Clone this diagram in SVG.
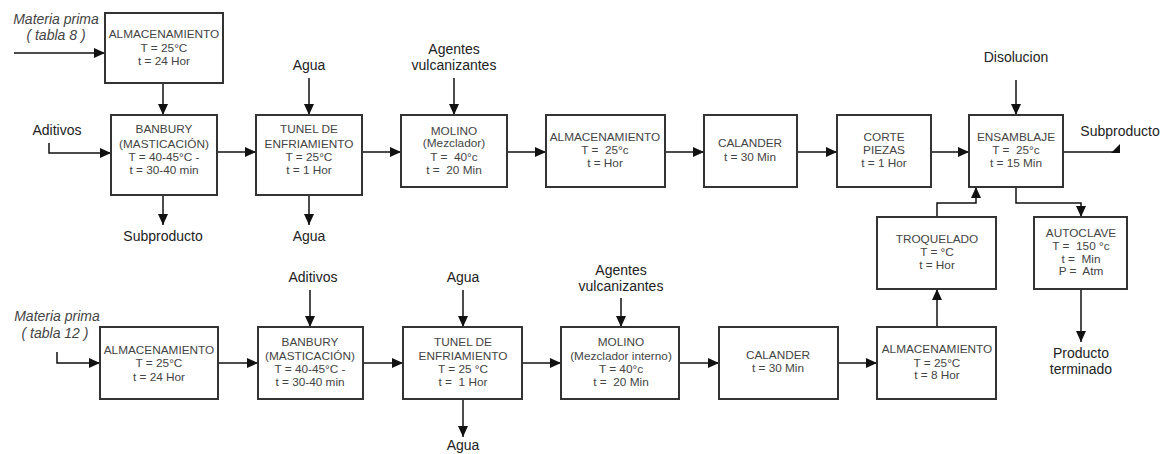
<svg xmlns="http://www.w3.org/2000/svg" width="1170" height="454" viewBox="0 0 1170 454">
<style>
.box{fill:#fff;stroke:#333;stroke-width:2}
.bt{font-family:"Liberation Sans",Arial,sans-serif;font-size:11.8px;fill:#444;text-anchor:middle;white-space:pre}
.lb{font-family:"Liberation Sans",Arial,sans-serif;font-size:14px;fill:#222;text-anchor:middle;white-space:pre}
.it{font-style:italic;fill:#444}
.c{fill:none;stroke:#111;stroke-width:1.5}
</style>
<defs>
<marker id="ar" markerUnits="userSpaceOnUse" markerWidth="12" markerHeight="10" refX="11" refY="5" orient="auto">
<path d="M0,0 L11,5 L0,10 Z" fill="#111"/>
</marker>
</defs>
<rect width="1170" height="454" fill="#fff"/>

<g id="connectors">
<line class="c" x1="14" y1="53" x2="105" y2="53" marker-end="url(#ar)"/>
<line class="c" x1="163" y1="83" x2="163" y2="115" marker-end="url(#ar)"/>
<path class="c" d="M49,143 V153 H111" marker-end="url(#ar)"/>
<line class="c" x1="163" y1="195" x2="163" y2="225" marker-end="url(#ar)"/>
<line class="c" x1="217" y1="152" x2="256" y2="152" marker-end="url(#ar)"/>
<line class="c" x1="309" y1="78" x2="309" y2="115" marker-end="url(#ar)"/>
<line class="c" x1="309" y1="195" x2="309" y2="225" marker-end="url(#ar)"/>
<line class="c" x1="362" y1="152" x2="401" y2="152" marker-end="url(#ar)"/>
<line class="c" x1="454" y1="78" x2="454" y2="115" marker-end="url(#ar)"/>
<line class="c" x1="507" y1="152" x2="546" y2="152" marker-end="url(#ar)"/>
<line class="c" x1="665" y1="152" x2="704" y2="152" marker-end="url(#ar)"/>
<line class="c" x1="797" y1="152" x2="837" y2="152" marker-end="url(#ar)"/>
<line class="c" x1="931" y1="152" x2="969" y2="152" marker-end="url(#ar)"/>
<line class="c" x1="1016" y1="80" x2="1016" y2="115" marker-end="url(#ar)"/>
<line class="c" x1="1063" y1="152" x2="1120" y2="152"/>
<polygon points="1111,153 1120,144 1120,153" fill="#111"/>
<path class="c" d="M937,217 V203 H976 V187" marker-end="url(#ar)"/>
<path class="c" d="M1016,187 V203 H1081 V217" marker-end="url(#ar)"/>
<line class="c" x1="1081" y1="289" x2="1081" y2="342" marker-end="url(#ar)"/>
<line class="c" x1="937" y1="327" x2="937" y2="289" marker-end="url(#ar)"/>

<path class="c" d="M57,352 V363 H100" marker-end="url(#ar)"/>
<line class="c" x1="218" y1="363" x2="258" y2="363" marker-end="url(#ar)"/>
<line class="c" x1="310" y1="290" x2="310" y2="327" marker-end="url(#ar)"/>
<line class="c" x1="363" y1="363" x2="403" y2="363" marker-end="url(#ar)"/>
<line class="c" x1="463" y1="290" x2="463" y2="327" marker-end="url(#ar)"/>
<line class="c" x1="463" y1="399" x2="463" y2="437" marker-end="url(#ar)"/>
<line class="c" x1="522" y1="363" x2="561" y2="363" marker-end="url(#ar)"/>
<line class="c" x1="621" y1="298" x2="621" y2="327" marker-end="url(#ar)"/>
<line class="c" x1="679" y1="363" x2="719" y2="363" marker-end="url(#ar)"/>
<line class="c" x1="838" y1="363" x2="877" y2="363" marker-end="url(#ar)"/>
</g>

<g id="labels">
<text class="lb it" x="56" y="24">Materia prima</text>
<text class="lb it" x="56" y="40">( tabla 8 )</text>
<text class="lb" x="57" y="135">Aditivos</text>
<text class="lb" x="163" y="241">Subproducto</text>
<text class="lb" x="309" y="70">Agua</text>
<text class="lb" x="309" y="241">Agua</text>
<text class="lb" x="454" y="54">Agentes</text>
<text class="lb" x="454" y="70">vulcanizantes</text>
<text class="lb" x="1016" y="62">Disolucion</text>
<text class="lb" x="1120" y="136">Subproducto</text>
<text class="lb" x="1081" y="358">Producto</text>
<text class="lb" x="1081" y="374">terminado</text>
<text class="lb it" x="57" y="321">Materia prima</text>
<text class="lb it" x="55" y="338">( tabla 12 )</text>
<text class="lb" x="313" y="282">Aditivos</text>
<text class="lb" x="463" y="282">Agua</text>
<text class="lb" x="463" y="450">Agua</text>
<text class="lb" x="621" y="275">Agentes</text>
<text class="lb" x="621" y="291">vulcanizantes</text>
</g>

<g id="n-almacen1">
<rect class="box" x="105" y="13" width="118" height="70"/>
<text class="bt" x="164" y="38">ALMACENAMIENTO</text>
<text class="bt" x="164" y="52">T = 25°C</text>
<text class="bt" x="164" y="65">t = 24 Hor</text>
</g>
<g id="n-banbury1">
<rect class="box" x="111" y="115" width="106" height="80"/>
<text class="bt" x="164" y="133">BANBURY</text>
<text class="bt" x="164" y="148">(MASTICACIÓN)</text>
<text class="bt" x="164" y="161">T = 40-45°C -</text>
<text class="bt" x="164" y="174">t = 30-40 min</text>
</g>
<g id="n-tunel1">
<rect class="box" x="256" y="115" width="106" height="80"/>
<text class="bt" x="309" y="133">TUNEL DE</text>
<text class="bt" x="309" y="148">ENFRIAMIENTO</text>
<text class="bt" x="309" y="161">T = 25°C</text>
<text class="bt" x="309" y="174">t = 1 Hor</text>
</g>
<g id="n-molino1">
<rect class="box" x="401" y="115" width="106" height="72"/>
<text class="bt" x="454" y="135">MOLINO</text>
<text class="bt" x="454" y="147">(Mezclador)</text>
<text class="bt" x="454" y="161">T =  40°c</text>
<text class="bt" x="454" y="174">t =  20 Min</text>
</g>
<g id="n-almacen2">
<rect class="box" x="546" y="115" width="119" height="72"/>
<text class="bt" x="605" y="141">ALMACENAMIENTO</text>
<text class="bt" x="605" y="154">T =  25°c</text>
<text class="bt" x="605" y="167">t = Hor</text>
</g>
<g id="n-calander1">
<rect class="box" x="704" y="115" width="93" height="72"/>
<text class="bt" x="750" y="147">CALANDER</text>
<text class="bt" x="750" y="161">t = 30 Min</text>
</g>
<g id="n-corte">
<rect class="box" x="837" y="115" width="94" height="72"/>
<text class="bt" x="884" y="141">CORTE</text>
<text class="bt" x="884" y="154">PIEZAS</text>
<text class="bt" x="884" y="167">t = 1 Hor</text>
</g>
<g id="n-ensamblaje">
<rect class="box" x="969" y="115" width="94" height="72"/>
<text class="bt" x="1016" y="141">ENSAMBLAJE</text>
<text class="bt" x="1016" y="154">T =  25°c</text>
<text class="bt" x="1016" y="167">t = 15 Min</text>
</g>
<g id="n-troquelado">
<rect class="box" x="877" y="217" width="119" height="72"/>
<text class="bt" x="937" y="243">TROQUELADO</text>
<text class="bt" x="937" y="256">T = °C</text>
<text class="bt" x="937" y="269">t = Hor</text>
</g>
<g id="n-autoclave">
<rect class="box" x="1034" y="217" width="93" height="72"/>
<text class="bt" x="1081" y="237">AUTOCLAVE</text>
<text class="bt" x="1081" y="250">T =  150 °c</text>
<text class="bt" x="1081" y="263">t =  Min</text>
<text class="bt" x="1081" y="275">P =  Atm</text>
</g>

<g id="n-almacen3">
<rect class="box" x="100" y="327" width="118" height="72"/>
<text class="bt" x="159" y="354">ALMACENAMIENTO</text>
<text class="bt" x="159" y="367">T = 25°C</text>
<text class="bt" x="159" y="381">t = 24 Hor</text>
</g>
<g id="n-banbury2">
<rect class="box" x="258" y="327" width="105" height="72"/>
<text class="bt" x="310" y="346">BANBURY</text>
<text class="bt" x="310" y="360">(MASTICACIÓN)</text>
<text class="bt" x="310" y="373">T = 40-45°C -</text>
<text class="bt" x="310" y="386">t = 30-40 min</text>
</g>
<g id="n-tunel2">
<rect class="box" x="403" y="327" width="119" height="72"/>
<text class="bt" x="463" y="346">TUNEL DE</text>
<text class="bt" x="463" y="360">ENFRIAMIENTO</text>
<text class="bt" x="463" y="373">T = 25 °C</text>
<text class="bt" x="463" y="386">t =  1 Hor</text>
</g>
<g id="n-molino2">
<rect class="box" x="561" y="327" width="118" height="72"/>
<text class="bt" x="621" y="346">MOLINO</text>
<text class="bt" x="621" y="360">(Mezclador interno)</text>
<text class="bt" x="621" y="373">T = 40°c</text>
<text class="bt" x="621" y="386">t =  20 Min</text>
</g>
<g id="n-calander2">
<rect class="box" x="719" y="327" width="119" height="72"/>
<text class="bt" x="778" y="359">CALANDER</text>
<text class="bt" x="778" y="372">t = 30 Min</text>
</g>
<g id="n-almacen4">
<rect class="box" x="877" y="327" width="119" height="72"/>
<text class="bt" x="937" y="353">ALMACENAMIENTO</text>
<text class="bt" x="937" y="367">T = 25°C</text>
<text class="bt" x="937" y="379">t = 8 Hor</text>
</g>
</svg>
